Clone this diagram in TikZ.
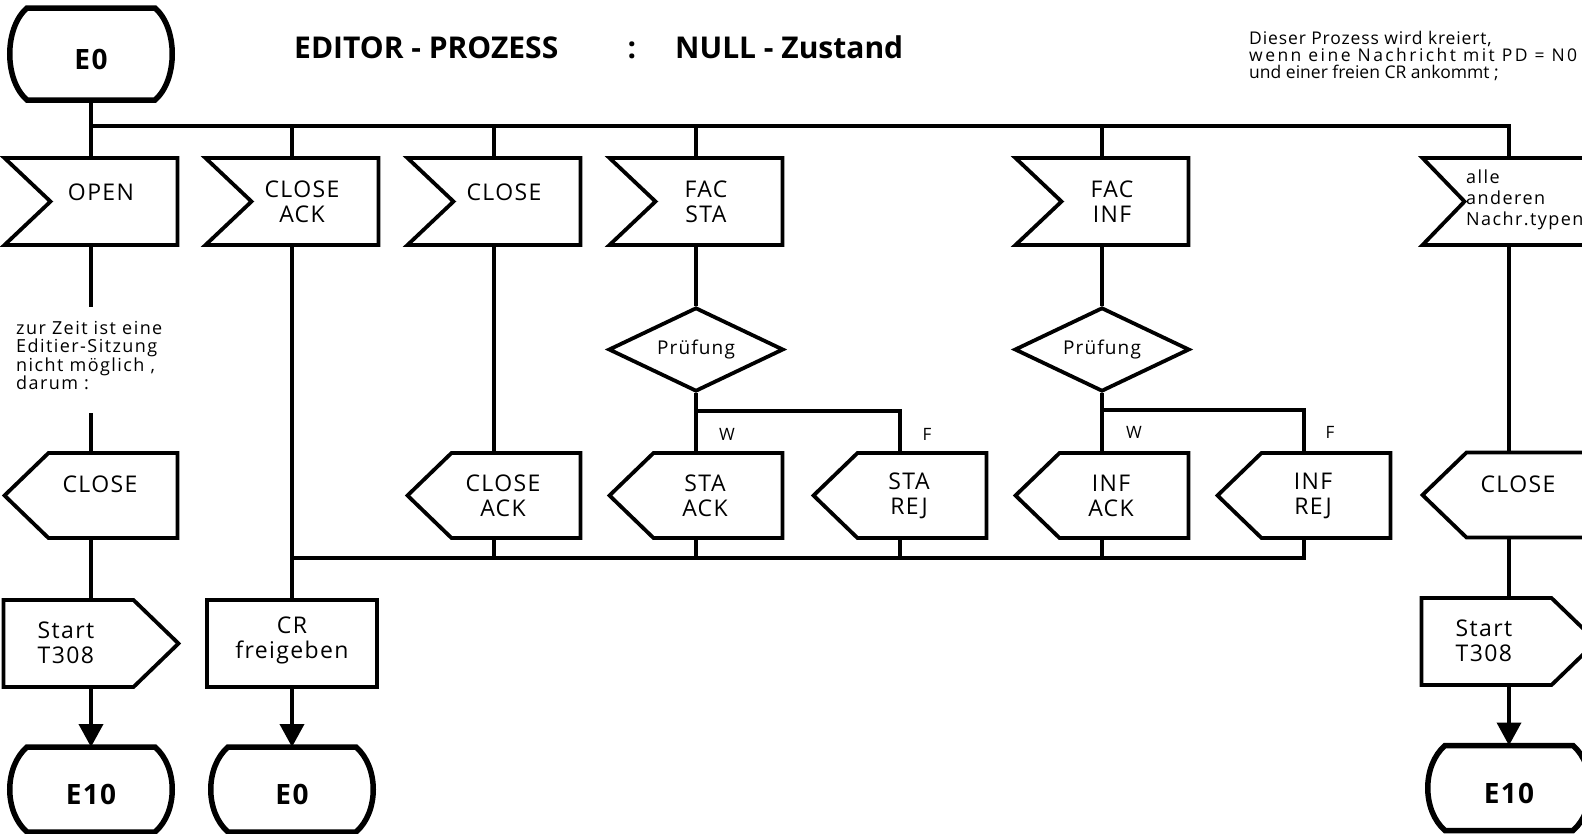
\documentclass[tikz,border=0pt]{standalone}
\usepackage{fontspec}
\setmainfont{Open Sans}[LetterSpace=6]
\newfontfamily\fTight{Open Sans}[LetterSpace=0]
\newfontfamily\fHdr{Open Sans}[LetterSpace=5]
\newfontfamily\fWide{Open Sans}[LetterSpace=8]
\usetikzlibrary{shapes.geometric,arrows.meta}

\tikzset{
  shp/.style={line width=3.8pt, line join=miter},
  stl/.style={line width=5.5pt, line join=miter},
  conn/.style={line width=3.8pt},
  arr/.style={line width=3.8pt, -{Triangle[length=23pt,width=24pt]}},
  boxn/.style={rectangle, minimum width=173pt, minimum height=86pt, inner sep=0pt, outer sep=0pt},
  stn/.style={rectangle, minimum width=162pt, inner sep=0pt, outer sep=0pt},
  lbl/.style={font=\fontsize{23}{25}\selectfont, align=center, inner sep=0pt},
  stt/.style={font=\fHdr\bfseries\fontsize{28}{30}\selectfont, inner sep=0pt},
  ttl/.style={font=\fTight\bfseries\fontsize{30}{32}\selectfont, inner sep=0pt},
  hdr/.style={font=\fHdr\fontsize{17.5}{17}\selectfont, align=left, inner sep=0pt},
  notetxt/.style={font=\fWide\fontsize{18}{18.3}\selectfont, align=left, inner sep=0pt},
  smalltxt/.style={font=\fWide\fontsize{18}{21}\selectfont, align=left, inner sep=0pt},
  wf/.style={font=\fontsize{17}{18}\selectfont, inner sep=0pt},
  dia/.style={diamond, draw, line width=3.8pt, line join=miter, minimum width=175pt, minimum height=84pt,
    inner sep=0pt, aspect=2.08, font=\fontsize{19}{20}\selectfont}
}

% input symbol (notched left side)
\newcommand{\InBox}[5]{%
  \node[boxn, minimum height=87pt] (#1) at (#2,#3) {};
  \draw[shp] (#1.north west) -- (#1.north east) -- (#1.south east) -- (#1.south west)
    -- ([xshift=46pt]#1.west) -- cycle;
  \node[lbl] at ([xshift=10pt,yshift=#4]#1.center) {#5};
}
% output symbol (pointing left)
\newcommand{\OutBox}[5]{%
  \node[boxn, minimum height=85pt] (#1) at (#2,#3) {};
  \draw[shp] ([xshift=44pt]#1.north west) -- (#1.north east) -- (#1.south east)
    -- ([xshift=44pt]#1.south west) -- (#1.west) -- cycle;
  \node[lbl] at ([xshift=9pt,yshift=#4]#1.center) {#5};
}
% timer symbol (pointing right)
\newcommand{\TimerBox}[4]{%
  \node[boxn, minimum width=175pt, minimum height=87pt] (#1) at (#2,#3) {};
  \draw[shp] (#1.north west) -- ([xshift=-45pt]#1.north east) -- (#1.east)
    -- ([xshift=-45pt]#1.south east) -- (#1.south west) -- cycle;
  \node[lbl, align=left, anchor=north west] at ([xshift=34pt,yshift=-22pt]#1.north west) {#4};
}
% state symbol
\newcommand{\StateS}[5]{%
  \node[stn, minimum height=#4pt] (#1) at (#2,#3) {};
  \draw[stl] ([xshift=17pt]#1.north west) -- ([xshift=-17pt]#1.north east)
    .. controls ([xshift=6pt,yshift=-20pt]#1.north east) and ([xshift=6pt,yshift=20pt]#1.south east)
    .. ([xshift=-17pt]#1.south east) -- ([xshift=17pt]#1.south west)
    .. controls ([xshift=-6pt,yshift=20pt]#1.south west) and ([xshift=-6pt,yshift=-20pt]#1.north west)
    .. ([xshift=17pt]#1.north west) -- cycle;
  \node[stt] at ([yshift=-5pt]#1.center) {#5};
}

\begin{document}
\begin{tikzpicture}[x=1pt,y=-1pt]
\useasboundingbox (0,0) rectangle (1582,833);
\clip (0,0) rectangle (1582,833);

% ---------- heading ----------
\node[ttl, anchor=base west] (t1) at (294,58) {EDITOR - PROZESS};
\node[ttl, anchor=base] (t2) at (632,58) {:};
\node[ttl, anchor=base west] (t3) at (675,58) {NULL - Zustand};
\node[hdr, anchor=north west] (hn) at (1249,31) {Dieser Prozess wird kreiert,\\{\addfontfeature{LetterSpace=14}wenn eine Nachricht mit PD = N0}\\{\addfontfeature{LetterSpace=0}und einer freien CR ankommt ;}};

% ---------- start state and bus ----------
\StateS{e0top}{91}{54}{92}{E0}
\coordinate (busL) at (91,126);
\coordinate (lowL) at (292,558);

% ---------- column 1 ----------
\InBox{open}{91}{201.5}{9pt}{OPEN}
\coordinate (c1a) at (91,307);
\coordinate (c1b) at (91,413);
\node[notetxt, anchor=north west] (note1) at (16,321) {zur Zeit ist eine\\Editier-Sitzung\\nicht möglich ,\\darum :};
\OutBox{close1}{91}{495.5}{11pt}{CLOSE}
\TimerBox{start1}{91}{643.5}{Start\\T308}
\StateS{e10l}{91}{789.5}{85}{E10}
\draw[conn] (e0top.south) -- (open.north);
\draw[conn] (open.south) -- (c1a);
\draw[conn] (c1b) -- (close1.north);
\draw[conn] (close1.south) -- (start1.north);
\draw[arr] (start1.south) -- (e10l.north);

% ---------- column 2 ----------
\InBox{in2}{292}{201.5}{0pt}{CLOSE\\ACK}
\node[boxn, minimum width=170pt, minimum height=87pt, draw, shp] (cr) at (292,643.5) {};
\node[lbl] (crt) at (292,640) {CR\\freigeben};
\StateS{e0b}{292}{789.5}{85}{E0}
\draw[conn] (busL) -| (in2.north);
\draw[conn] (in2.south) -- (cr.north);
\draw[arr] (cr.south) -- (e0b.north);

% ---------- column 3 ----------
\InBox{in3}{494}{201.5}{9pt}{CLOSE}
\OutBox{out3}{494}{495.5}{0pt}{CLOSE\\ACK}
\draw[conn] (busL) -| (in3.north);
\draw[conn] (in3.south) -- (out3.north);
\draw[conn] (out3.south) |- (lowL);

% ---------- column 4 ----------
\InBox{in4}{696}{201.5}{0pt}{FAC\\STA}
\node[dia] (d1) at (696,349.5) {Prüfung};
\OutBox{staack}{696}{495.5}{0pt}{STA\\ACK}
\OutBox{starej}{900}{495.5}{0pt}{STA\\REJ}
\coordinate (b1) at (696,411);
\node[wf] (w1) at (727,434) {W};
\node[wf] (f1) at (927,434) {F};
\draw[conn] (busL) -| (in4.north);
\draw[conn] (in4.south) -- (d1.north);
\draw[conn] (d1.south) -- (staack.north);
\draw[conn] (b1) -| (starej.north);
\draw[conn] (staack.south) |- (lowL);
\draw[conn] (starej.south) |- (lowL);

% ---------- column 5 ----------
\InBox{in5}{1102}{201.5}{0pt}{FAC\\INF}
\node[dia] (d2) at (1102,349.5) {Prüfung};
\OutBox{infack}{1102}{495.5}{0pt}{INF\\ACK}
\OutBox{infrej}{1304}{495.5}{0pt}{INF\\REJ}
\coordinate (b2) at (1102,410);
\node[wf] (w2) at (1134,432) {W};
\node[wf] (f2) at (1330,432) {F};
\draw[conn] (busL) -| (in5.north);
\draw[conn] (in5.south) -- (d2.north);
\draw[conn] (d2.south) -- (infack.north);
\draw[conn] (b2) -| (infrej.north);
\draw[conn] (infack.south) |- (lowL);
\draw[conn] (infrej.south) |- (lowL);

% ---------- column 6 ----------
\node[boxn, minimum height=87pt] (in6) at (1509,201.5) {};
\draw[shp] (in6.north west) -- (in6.north east) -- (in6.south east) -- (in6.south west)
  -- ([xshift=42pt]in6.west) -- cycle;
\node[smalltxt, anchor=north west] (in6t) at (1466,170) {alle\\anderen\\Nachr.typen};
\OutBox{out6}{1509}{495}{11pt}{CLOSE}
\TimerBox{start6}{1509}{641.5}{Start\\T308}
\StateS{e10r}{1509}{788}{85}{E10}
\draw[conn] (busL) -| (in6.north);
\draw[conn] (in6.south) -- (out6.north);
\draw[conn] (out6.south) -- (start6.north);
\draw[arr] (start6.south) -- (e10r.north);
\end{tikzpicture}
\end{document}
